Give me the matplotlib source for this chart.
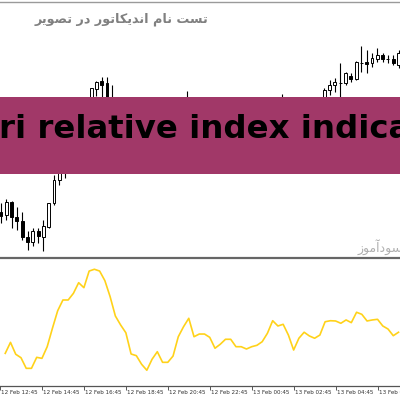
import matplotlib
matplotlib.use("Agg")
import matplotlib.pyplot as plt
from matplotlib.patches import Rectangle
from matplotlib.lines import Line2D
import matplotlib.transforms as mtransforms

# ---------------- data ----------------
opens = [45.3, 42, 55.3, 39.7, 36, 20.3, 15.3, 26.3, 20.3, 30.3,
         53.7, 77, 100, 118, 135, 150, 145, 155, 167.7, 176,
         173.7, 150, 140, 132, 128, 112, 108, 100, 94, 102,
         108, 98, 97, 103, 118, 128, 136, 122, 124, 124,
         121, 110, 113, 117, 117, 110, 109, 106, 108, 111,
         116, 127, 140, 135, 138, 126, 112, 122, 130, 127,
         130, 148, 167, 172, 173.7, 173.7, 181.3, 177.7, 194.3, 195.3,
         193.7, 197.7, 202, 197.7, 197.7, 192]
highs = [54.3, 57.7, 56, 50.3, 45.3, 26.3, 28.7, 28.7, 37, 54,
         82, 104, 122, 140, 155, 158, 159, 168.7, 176.3, 179.7,
         180.3, 172, 145, 136, 130, 116, 112, 103, 106, 111,
         110, 102, 106, 121, 132, 166.3, 139, 128, 127, 126,
         123, 116, 120, 121, 119, 113, 112, 111, 114, 119,
         130, 144, 146, 162.7, 140, 128, 125, 133, 133, 131,
         152, 168.7, 177, 178.7, 193.7, 185.3, 184.3, 196, 211, 207,
         203.7, 208.7, 204.3, 202, 202, 207]
lows = [33.7, 37, 28.7, 27, 17, 7, 11, 13.7, 6.3, 29,
        52, 72, 79, 112, 130, 140, 142, 152, 161, 160,
        145, 136, 128, 122, 108, 102, 96, 90, 92, 99,
        95, 93, 94, 101, 115, 125, 119, 118, 120, 117,
        106, 107, 110, 113, 106, 104, 102, 103, 106, 109,
        114, 125, 131, 133, 122, 108, 110, 119, 124, 121,
        128, 145, 162, 165.3, 160.3, 172, 175.3, 177, 185.3, 184.3,
        190.3, 195.3, 195.3, 193.7, 192, 189]
closes = [41.3, 55.3, 39.7, 36, 20.3, 15.3, 26, 21, 31.3, 53.7,
          77, 100, 118, 135, 150, 145, 157, 168.7, 175.3, 172,
          150, 140, 132, 128, 112, 108, 100, 94, 102, 108,
          98, 97, 103, 118, 128, 136, 122, 124, 124.5, 121,
          110, 113, 117, 117, 110, 109, 106, 108, 111, 116,
          127, 140, 135, 138, 126, 112, 122, 130, 127, 130,
          148, 167, 172, 175.3, 173.7, 183.7, 178, 195.3, 194.3, 193,
          198.7, 202, 197.7, 197.7, 194.3, 203.7]

rsi = [25.5, 34.1, 24.8, 22.1, 13.8, 13.8, 22.4, 21.6, 30.7, 45.1,
       58.8, 67.2, 67.2, 72.4, 80.7, 76.8, 89.8, 91.2, 89.8, 82.3,
       69.8, 54.7, 47.7, 41.6, 25.0, 23.7, 17.0, 12.3, 20.9, 26.8,
       18.5, 18.5, 23.4, 38.5, 46.3, 52.9, 38.5, 40.6, 40.6, 38.0,
       29.5, 32.6, 36.5, 36.5, 30.7, 30.7, 28.9, 30.7, 31.8, 34.6,
       41.2, 51.0, 46.9, 48.2, 39.8, 28.1, 37.3, 42.0, 39.1, 37.3,
       39.8, 50.2, 51.0, 50.8, 49.0, 51.6, 49.5, 57.6, 56.0, 50.8,
       51.6, 52.1, 46.9, 44.5, 39.3, 42.0]

tick_pos = [-1, 7, 15, 23, 31, 39, 47, 55, 63, 71]
tick_labels = ["12 Feb 12:45", "12 Feb 14:45", "12 Feb 16:45", "12 Feb 18:45",
               "12 Feb 20:45", "12 Feb 22:45", "13 Feb 00:45", "13 Feb 02:45",
               "13 Feb 04:45", "13 Feb 06:45"]

title_fa = "تست نام اندیکاتور در تصویر"
watermark_fa = "سودآموز"
banner_text = "ri relative index indicator"

# ---------------- Persian shaping (presentation forms, RTL) ----------------
FORMS = {
    'ا': ('\uFE8D', '\uFE8E', None, None),
    'آ': ('\uFE81', '\uFE82', None, None),
    'د': ('\uFEA9', '\uFEAA', None, None),
    'ر': ('\uFEAD', '\uFEAE', None, None),
    'ز': ('\uFEAF', '\uFEB0', None, None),
    'و': ('\uFEED', '\uFEEE', None, None),
    'ت': ('\uFE95', '\uFE96', '\uFE97', '\uFE98'),
    'س': ('\uFEB1', '\uFEB2', '\uFEB3', '\uFEB4'),
    'ص': ('\uFEB9', '\uFEBA', '\uFEBB', '\uFEBC'),
    'ن': ('\uFEE5', '\uFEE6', '\uFEE7', '\uFEE8'),
    'م': ('\uFEE1', '\uFEE2', '\uFEE3', '\uFEE4'),
    'ی': ('\uFBFC', '\uFBFD', '\uFBFE', '\uFBFF'),
    'ک': ('\uFB8E', '\uFB8F', '\uFB90', '\uFB91'),
}


def shape(s):
    out = []
    for i, c in enumerate(s):
        if c not in FORMS:
            out.append(c)
            continue
        prev = s[i - 1] if i > 0 else ''
        nxt = s[i + 1] if i + 1 < len(s) else ''
        jp = prev in FORMS and FORMS[prev][2] is not None
        jn = FORMS[c][2] is not None and nxt in FORMS
        iso, fin, ini, med = FORMS[c]
        if jp and jn:
            out.append(med)
        elif jp:
            out.append(fin)
        elif jn:
            out.append(ini)
        else:
            out.append(iso)
    return ''.join(reversed(out))


# ---------------- figure ----------------
W = H = 400
fig = plt.figure(figsize=(4, 4), dpi=100)
fig.patch.set_facecolor("white")

def fy(px):
    return (H - px) / H

x_lim = (-1 / 5.3, 399 / 5.3)

# top (price) panel
ax1 = fig.add_axes([0, fy(257), 1, (257 - 3) / H])
ax1.set_xlim(*x_lim)
ax1.set_ylim(0, 254)
ax1.axis("off")
xs = list(range(len(opens)))
ax1.vlines(xs, lows, highs, color="black", linewidth=0.8, zorder=2)
bottoms = [min(o, c) for o, c in zip(opens, closes)]
heights = [abs(c - o) for o, c in zip(opens, closes)]
fcols = ["white" if c > o else "black" for o, c in zip(opens, closes)]
ax1.bar(xs, heights, bottom=bottoms, width=0.55, color=fcols,
        edgecolor="black", linewidth=0.7, zorder=3)

# bottom (indicator) panel
ax2 = fig.add_axes([0, fy(386), 1, 128 / H])
ax2.set_xlim(*x_lim)
ax2.set_ylim(0, 100)
ax2.plot(xs, rsi, color="#FFD21A", linewidth=1.2, zorder=3)
for s in ["top", "left", "right"]:
    ax2.spines[s].set_visible(False)
ax2.spines["bottom"].set_color("#555555")
ax2.spines["bottom"].set_linewidth(0.9)
ax2.set_yticks([])
ax2.set_xticks(tick_pos)
ax2.tick_params(axis="x", direction="out", length=3, width=0.7,
                color="#555555", labelbottom=False)
trans = mtransforms.blended_transform_factory(ax2.transData, fig.transFigure)
for p, lab in zip(tick_pos, tick_labels):
    ax2.text(p + 0.2, fy(392.5), lab, transform=trans, ha="left", va="center",
             fontsize=4.1, color="#333333", clip_on=False)

# frame lines
fig.add_artist(Line2D([0, 1], [fy(1.5), fy(1.5)], color="#9a9a9a", linewidth=1.0,
                      transform=fig.transFigure))
fig.add_artist(Line2D([0, 1], [fy(257.6), fy(257.6)], color="#666666", linewidth=1.6,
                      transform=fig.transFigure))

# titles / watermark
fig.text(121 / W, fy(19), shape(title_fa), ha="center", va="center",
         fontsize=9.2, fontweight="bold", color="#808080",
         family=["DejaVu Sans"])
fig.text(403 / W, fy(247), shape(watermark_fa), ha="right", va="center",
         fontsize=9, color="#b0b0b0", family=["DejaVu Sans"])

# banner
fig.add_artist(Rectangle((0, fy(174)), 1, (174 - 96.5) / H, transform=fig.transFigure,
                         facecolor="#A13868", edgecolor="none", zorder=10))
fig.text(-1 / W, fy(138.3), banner_text, ha="left", va="baseline",
         fontsize=23.3, fontweight="bold", color="black", zorder=11)

fig.savefig("out.png", dpi=100)
